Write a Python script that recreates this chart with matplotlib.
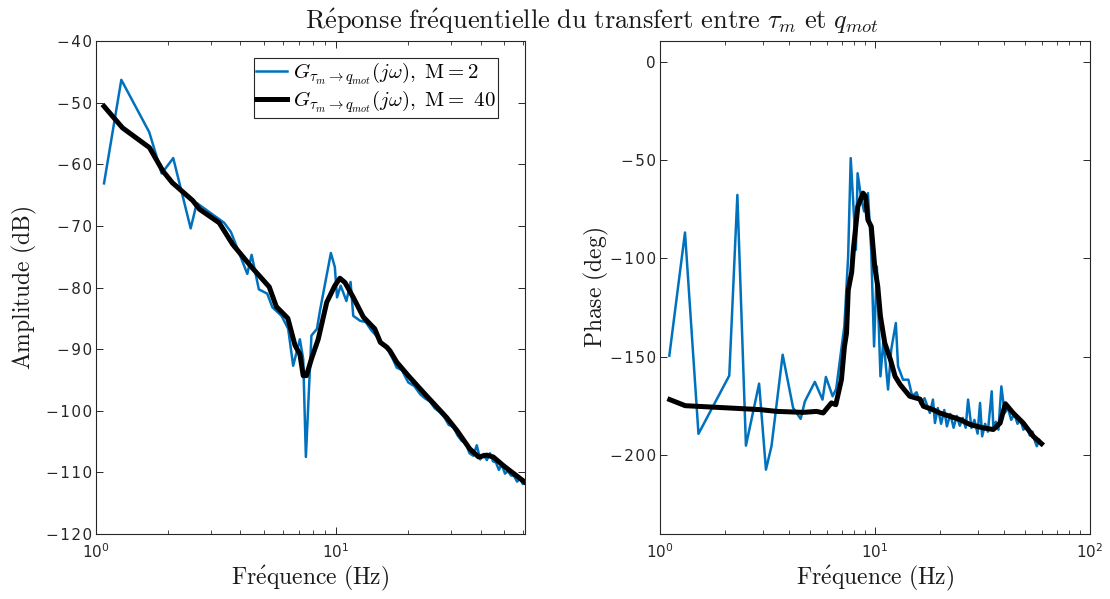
import numpy as np
import matplotlib
matplotlib.use("Agg")
import matplotlib.pyplot as plt
from matplotlib.ticker import LogLocator, NullFormatter, FixedLocator, FuncFormatter

plt.rcParams['mathtext.fontset'] = 'cm'
plt.rcParams['font.family'] = ['DejaVu Sans']

# ---------------- data ----------------
# Amplitude, M=2 (blue)
amp2_f = [1.08, 1.275, 1.667, 1.878, 2.098, 2.48, 2.63, 3.42, 3.65, 4.27, 4.45, 4.77, 5.17, 5.43,
          5.93, 6.32, 6.63, 7.07, 7.30, 7.49, 7.90, 8.33, 8.57, 9.52, 9.89, 10.1, 10.46, 11.05,
          11.5, 11.8, 12.6, 13.3, 14.0, 14.7, 15.7, 16.5, 17.2, 17.9, 18.8, 20.0, 21.2, 22.4,
          23.5, 24.6, 25.8, 27.0, 28.2, 29.5, 30.8, 32.1, 33.4, 34.7, 36.0, 37.3, 38.6, 39.9,
          41.2, 42.5, 43.8, 45.1, 46.4, 47.7, 49.0, 50.6, 52.0, 53.6, 55.2, 56.8, 58.4, 60.0, 61.2]
amp2_db = [-63.1, -46.3, -54.8, -61.5, -59.0, -70.4, -66.3, -69.5, -71.0, -77.8, -74.7, -80.3, -81.0, -83.2,
           -84.6, -86.7, -92.7, -88.4, -91.6, -107.5, -87.8, -86.7, -83.8, -74.4, -76.7, -81.6, -79.7, -82.2,
           -79.1, -84.6, -85.4, -85.6, -86.9, -87.8, -89.2, -90.2, -91.5, -93.0, -93.4, -95.4, -96.0, -97.3,
           -98.0, -98.5, -99.6, -100.2, -101.0, -102.3, -102.6, -104.0, -104.9, -105.2, -106.9, -107.3, -105.6, -107.9,
           -107.0, -108.0, -106.9, -108.2, -108.4, -109.6, -108.7, -110.2, -109.8, -110.5, -110.6, -111.5, -111.0, -111.9, -111.7]

# Amplitude, M=40 (black)
amp40_f = [1.08, 1.29, 1.67, 1.90, 2.08, 2.53, 2.70, 3.26, 3.71, 4.45, 5.27, 5.64, 6.30, 6.75, 7.07, 7.30,
           7.53, 7.90, 8.43, 9.15, 9.89, 10.38, 10.9, 11.8, 13.0, 14.5, 15.3, 16.3, 16.8, 17.9, 20.0,
           23.1, 28.9, 31.9, 36.1, 39.3, 42.4, 45.2, 49.8, 61.3]
amp40_db = [-50.6, -54.1, -57.3, -61.1, -63.0, -65.9, -67.3, -69.5, -73.0, -76.7, -79.9, -83.1, -85.0, -89.4, -90.8, -94.3,
            -94.3, -91.6, -88.4, -82.4, -79.7, -78.5, -79.2, -81.6, -84.8, -86.7, -88.9, -89.7, -90.3, -92.1, -94.3,
            -97.0, -101.1, -103.2, -106.2, -107.5, -107.2, -107.5, -108.9, -111.6]

# Phase, M=2 (blue)
ph2_f = [1.105, 1.307, 1.51, 2.10, 2.29, 2.51, 2.89, 3.11, 3.30, 3.72, 4.16, 4.51, 4.72, 5.25, 5.70, 5.91,
         6.35, 6.60, 7.05, 7.2, 7.50, 7.71, 8.15, 8.3, 8.6, 8.9, 9.27, 9.6, 9.9, 10.2, 10.6, 10.95,
         11.5, 11.9, 12.5, 12.8, 13.5, 14.3, 14.9, 15.6, 16.3, 17.0, 18.0, 18.6, 19.0, 19.6, 20.3, 21.0,
         21.6, 22.4, 23.2, 24.0, 24.8, 25.6, 26.4, 27.1, 28.1, 29.0, 30.0, 30.8, 31.5, 32.5, 33.5, 34.9,
         35.5, 36.5, 37.5, 38.7, 40.1, 41.5, 43.0, 44.5, 46.0, 47.5, 49.0, 50.8, 52.5, 54.0, 55.5, 56.6,
         58.0, 59.5]
ph2_deg = [-149.4, -86.8, -189.1, -159.5, -67.7, -195.1, -163.6, -207.3, -195.4, -148.9, -175.9, -181.5, -172.6, -162.7, -171.7, -160.2,
           -170.0, -166.3, -142.1, -134.5, -99.0, -49.0, -95.6, -56.7, -68.5, -76.1, -66.8, -95.6, -144.7, -104.0, -159.9, -141.3,
           -166.6, -146.3, -132.8, -154.8, -161.6, -161.6, -170.0, -168.0, -174.0, -171.0, -178.5, -171.7, -183.6, -176.0, -184.0, -177.0,
           -185.3, -179.0, -186.0, -180.0, -185.0, -181.0, -186.0, -171.7, -186.1, -182.0, -189.0, -173.4, -190.4, -184.0, -188.0, -167.5,
           -185.3, -183.0, -187.0, -165.0, -178.5, -176.0, -182.0, -179.0, -184.0, -182.0, -187.0, -185.3, -190.0, -188.0, -193.0, -195.4,
           -192.0, -194.5]

# Phase, M=40 (black)
ph40_f = [1.11, 1.31, 2.04, 2.92, 3.49, 4.64, 5.35, 5.74, 6.27, 6.57, 6.98, 7.21, 7.37, 7.51, 7.79, 7.93,
          8.32, 8.80, 9.04, 9.27, 9.61, 9.97, 10.3, 10.6, 11.1, 11.8, 12.4, 13.1, 14.5, 16.2, 16.8, 18.6,
          20.0, 22.3, 24.9, 27.7, 31.9, 35.5, 38.2, 40.4, 43.9, 48.9, 54.5, 59.5]
ph40_deg = [-171.7, -174.8, -175.9, -176.8, -177.7, -178.2, -177.7, -178.5, -173.4, -174.3, -161.6, -144.7, -138.0, -116.0, -107.0, -95.6,
            -73.6, -66.8, -68.5, -80.4, -83.8, -104.1, -114.2, -129.4, -142.9, -151.4, -159.9, -164.1, -170.0, -171.5, -175.1, -176.8,
            -178.5, -180.2, -181.9, -184.4, -186.1, -186.9, -183.6, -173.8, -178.5, -183.6, -190.4, -194.1]

amp_yticks = [-120, -110, -100, -90, -80, -70, -60, -50, -40]
ph_yticks = [-200, -150, -100, -50, 0]

label2 = r'$G_{\tau_m\rightarrow q_{mot}}(j\omega),\ \mathrm{M{=}2}$'
label40 = r'$G_{\tau_m\rightarrow q_{mot}}(j\omega),\ \mathrm{M{=}\ 40}$'


def spaced(v, pos):
    s = '%d' % v
    s = s.replace('-', '\u2212')
    return '\u200a'.join(s)


# ---------------- figure ----------------
blue = '#0072BD'
axcol = '#262626'
fig = plt.figure(figsize=(11.10, 5.99), dpi=100)
ax1 = fig.add_axes([96/1110, 65/599, 429/1110, 493/599])
ax2 = fig.add_axes([660/1110, 65/599, 430/1110, 493/599])

ax1.semilogx(amp2_f, amp2_db, color=blue, lw=1.8, label=label2)
ax1.semilogx(amp40_f, amp40_db, color='black', lw=3.6, label=label40)
ax2.semilogx(ph2_f, ph2_deg, color=blue, lw=1.8)
ax2.semilogx(ph40_f, ph40_deg, color='black', lw=3.6)

ax1.set_xlim(1, 61.3)
ax1.set_ylim(-120, -40)
ax1.yaxis.set_major_locator(FixedLocator(amp_yticks))
ax2.set_xlim(1, 100)
ax2.set_ylim(-240, 10.5)
ax2.yaxis.set_major_locator(FixedLocator(ph_yticks))

for ax in (ax1, ax2):
    ax.xaxis.set_major_locator(LogLocator(base=10, numticks=10))
    ax.xaxis.set_minor_locator(LogLocator(base=10, subs=np.arange(2, 10), numticks=10))
    ax.xaxis.set_minor_formatter(NullFormatter())
    ax.yaxis.set_major_formatter(FuncFormatter(spaced))
    ax.tick_params(which='both', direction='in', top=True, right=True, colors=axcol,
                   labelcolor=axcol, labelsize=11)
    ax.tick_params(which='major', length=5, width=0.7)
    ax.tick_params(axis='y', which='major', pad=3)
    ax.tick_params(axis='x', which='major', pad=6)
    ax.tick_params(which='minor', length=3, width=0.6)
    for s in ax.spines.values():
        s.set_color(axcol)
        s.set_linewidth(0.8)
    ax.set_xlabel(r'$\mathrm{Fr\acute{e}quence\ (Hz)}$', fontsize=17, color='#1a1a1a', labelpad=2)

ax1.set_ylabel(r'$\mathrm{Amplitude\ (dB)}$', fontsize=17, color='#1a1a1a')
ax2.set_ylabel(r'$\mathrm{Phase\ (deg)}$', fontsize=17, color='#1a1a1a')
ax1.yaxis.set_label_coords((39 - 96) / 429, 0.5)
ax2.yaxis.set_label_coords((611 - 660) / 430, 0.5)

leg = ax1.legend(loc='upper right', bbox_to_anchor=((498 - 96) / 429, (534 - 58) / 493),
                 fontsize=15, frameon=True, fancybox=False, framealpha=1,
                 edgecolor=axcol, borderpad=0.12, handlelength=1.45, handletextpad=0.3,
                 labelspacing=0.05, borderaxespad=0.0)
leg.get_frame().set_linewidth(0.8)

fig.text(592 / 1110, 0.965, r'$\mathrm{R\acute{e}ponse\ fr\acute{e}quentielle\ du\ transfert\ entre\ }\tau_m\mathrm{\ et\ }q_{mot}$',
         ha='center', va='center', fontsize=19, color='#1a1a1a')

fig.savefig('out.png', dpi=100)
